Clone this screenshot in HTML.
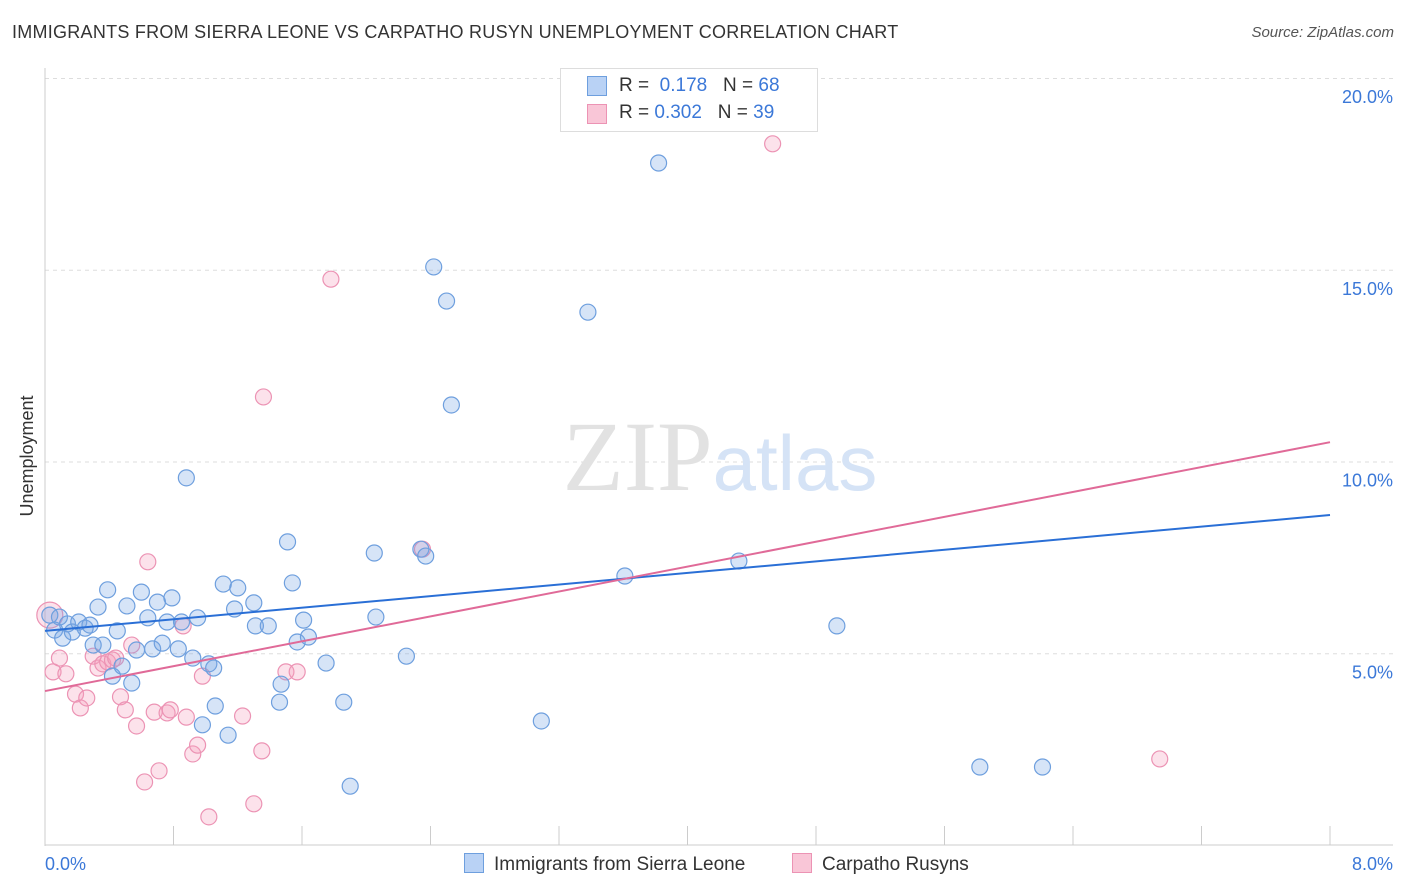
<!DOCTYPE html>
<html><head><meta charset="utf-8">
<style>
body{margin:0;background:#fff;font-family:"Liberation Sans",sans-serif;}
#wrap{position:relative;width:1406px;height:892px;overflow:hidden;}
.t{position:absolute;white-space:nowrap;}
</style></head>
<body>
<div id="wrap">
<div class="t" style="left:12px;top:22px;font-size:18px;letter-spacing:0.26px;color:#333;">IMMIGRANTS FROM SIERRA LEONE VS CARPATHO RUSYN UNEMPLOYMENT CORRELATION CHART</div>
<div class="t" style="right:12px;top:24px;font-size:15px;color:#555;font-style:italic;">Source: ZipAtlas.com</div>
<svg id="chart" width="1406" height="892" style="position:absolute;left:0;top:0;"></svg>
</div>
<script>
const blueX=[.03,.06,.09,.11,.14,.17,.21,.25,.28,.30,.33,.36,.39,.42,.45,.48,.51,.54,.57,.60,.64,.67,.70,.73,.76,.79,.83,.85,.88,.92,.95,.98,1.02,1.05,1.06,1.11,1.14,1.18,1.20,1.30,1.31,1.39,1.47,1.46,1.51,1.54,1.57,1.61,1.64,1.75,1.86,1.90,2.05,2.06,2.25,2.34,2.37,2.42,2.50,2.53,3.09,3.38,3.61,3.82,4.32,4.93,5.82,6.21];
const blueY=[6.02,5.63,5.97,5.42,5.79,5.58,5.84,5.68,5.76,5.24,6.23,5.24,6.68,4.43,5.61,4.69,6.26,4.25,5.11,6.62,5.95,5.14,6.36,5.29,5.84,6.47,5.14,5.84,9.60,4.90,5.95,3.16,4.75,4.64,3.65,6.83,2.89,6.18,6.73,6.34,5.74,5.74,4.22,3.75,7.93,6.86,5.32,5.89,5.45,4.77,3.75,1.56,7.64,5.97,4.95,7.74,7.56,15.10,14.21,11.50,3.26,13.92,7.04,17.81,7.43,5.74,2.06,2.06];
const pinkX=[.03,.05,.09,.13,.19,.22,.26,.30,.33,.36,.39,.42,.44,.47,.50,.54,.57,.62,.64,.68,.71,.76,.78,.86,.88,.92,.95,.98,1.02,1.23,1.30,1.35,1.36,1.50,1.57,1.78,2.35,4.53,6.94];
const pinkY=[6.02,4.54,4.90,4.49,3.96,3.60,3.86,4.95,4.64,4.75,4.80,4.85,4.90,3.89,3.55,5.24,3.13,1.67,7.41,3.49,1.96,3.47,3.55,5.74,3.36,2.40,2.63,4.43,0.76,3.39,1.10,2.48,11.71,4.54,4.54,14.78,7.74,18.31,2.27];
const blueTrend=[5.61,8.63];
const pinkTrend=[4.04,10.53];
const yTicks=[5,10,15,20];
const yTickLabels=["5.0%","10.0%","15.0%","20.0%"];
const xEnds=[0,8];
const xTickLabels=["0.0%","8.0%"];

const X0=45,X1=1330,Y0=846,PPU=38.35;
const sx=v=>X0+(v-xEnds[0])/(xEnds[1]-xEnds[0])*(X1-X0);
const sy=v=>Y0-v*PPU;
const svg=document.getElementById('chart');
const NS="http://www.w3.org/2000/svg";
function mk(tag,attrs){const e=document.createElementNS(NS,tag);for(const k in attrs)e.setAttribute(k,attrs[k]);svg.appendChild(e);return e;}

yTicks.forEach((t,i)=>{
  const g=mk('line',{x1:X0,x2:1393,y1:sy(t)-0.5,y2:sy(t)-0.5,stroke:'#ddd','stroke-dasharray':'4,4'});
  
  
  const tx=mk('text',{x:1393,y:sy(t)+24,'text-anchor':'end','font-size':18,fill:'#3b78d8','font-family':'Liberation Sans, sans-serif'});
  tx.textContent=yTickLabels[i];
  
  
});
let a=mk('line',{x1:X0,x2:X0,y1:68,y2:846,stroke:'#ccc'});


a=mk('line',{x1:X0,x2:1393,y1:845,y2:845,stroke:'#ccc'});


for(let i=0;i<=10;i++){
  const v=xEnds[0]+i*(xEnds[1]-xEnds[0])/10;
  const tk=mk('line',{x1:sx(v),x2:sx(v),y1:826,y2:845,stroke:'#ccc'});
  
  
}
[[0,'start',45],[1,'end',1393]].forEach(([i,anc,x])=>{
  const tx=mk('text',{x:x,y:870,'text-anchor':anc,'font-size':18,fill:'#3b78d8','font-family':'Liberation Sans, sans-serif'});
  tx.textContent=xTickLabels[i];
  
  
});
const yt=mk('text',{x:33,y:456,'text-anchor':'middle','font-size':18,fill:'#333',transform:'rotate(-90 33 456)','font-family':'Liberation Sans, sans-serif'});
yt.textContent='Unemployment';


const wm=mk('text',{x:720,y:490,'text-anchor':'middle','font-size':100,'font-family':'Liberation Serif, serif',fill:'#e2e2e2'});
wm.innerHTML='ZIP<tspan fill="#d5e3f6" font-family="Liberation Sans, sans-serif" font-size="78">atlas</tspan>';


function pts(xs,ys,fill,stroke,name){
  xs.forEach((x,i)=>{
    const c=mk('circle',{cx:sx(x),cy:sy(ys[i]),r:(i===0&&name==='pink-point')?13:8,fill:fill,stroke:stroke,'stroke-width':1.2});
    
    
  });
}
pts(pinkX,pinkY,'rgba(244,160,190,0.3)','#ec93b4','pink-point');
pts(blueX,blueY,'rgba(120,165,230,0.3)','#6e9fde','blue-point');
let l=mk('line',{x1:sx(xEnds[0]),x2:sx(xEnds[1]),y1:sy(blueTrend[0]),y2:sy(blueTrend[1]),stroke:'#2a6fd6','stroke-width':2});


l=mk('line',{x1:sx(xEnds[0]),x2:sx(xEnds[1]),y1:sy(pinkTrend[0]),y2:sy(pinkTrend[1]),stroke:'#e06a98','stroke-width':2});


</script>
<div class="t" style="left:560px;top:68px;width:256px;height:62px;border:1px solid #ddd;background:#fff;font-size:19px;color:#333;">
  <div style="position:absolute;left:26px;top:7px;width:18px;height:18px;background:#b9d2f5;border:1px solid #6e9fde;"></div>
  <div style="position:absolute;left:58px;top:6px;">R = &nbsp;<span style="color:#3b78d8">0.178</span> &nbsp;&nbsp;N = <span style="color:#3b78d8">68</span></div>
  <div style="position:absolute;left:26px;top:35px;width:18px;height:18px;background:#f9c6d7;border:1px solid #ec93b4;"></div>
  <div style="position:absolute;left:58px;top:33px;">R = <span style="color:#3b78d8">0.302</span> &nbsp;&nbsp;N = <span style="color:#3b78d8">39</span></div>
</div>
<div class="t" style="left:464px;top:853px;font-size:19px;color:#333;"><span style="display:inline-block;width:18px;height:18px;background:#b9d2f5;border:1px solid #6e9fde;vertical-align:-3px;margin-right:10px;"></span>Immigrants from Sierra Leone</div>
<div class="t" style="left:792px;top:853px;font-size:19px;color:#333;"><span style="display:inline-block;width:18px;height:18px;background:#f9c6d7;border:1px solid #ec93b4;vertical-align:-3px;margin-right:10px;"></span>Carpatho Rusyns</div>
</body></html>
